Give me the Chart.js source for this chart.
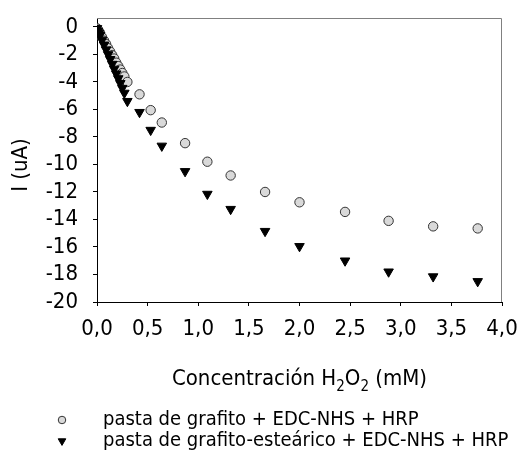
<!DOCTYPE html>
<html>
<head>
<meta charset="utf-8">
<script src="https://cdn.jsdelivr.net/npm/chart.js@4"></script>
<style>
  html, body { margin: 0; padding: 0; background: #fff; }
  #wrap { width: 518px; height: 466px; }
</style>
</head>
<body>
<div id="wrap"><canvas id="chart" width="518" height="466"></canvas></div>
<script>
// concentración H2O2 (mM)
var conc = [0, 0.01, 0.02, 0.03, 0.05, 0.07, 0.09, 0.11, 0.13, 0.15, 0.17, 0.19, 0.21, 0.23, 0.25, 0.27, 0.30,
            0.42, 0.53, 0.64, 0.87, 1.09, 1.32, 1.66, 2.00, 2.45, 2.88, 3.32, 3.76];
// pasta de grafito + EDC-NHS + HRP
var grafito = [-0.1, -0.2, -0.35, -0.45, -0.75, -1.0, -1.25, -1.55, -1.8, -2.05, -2.3, -2.6, -2.85, -3.1, -3.35, -3.6, -4.0,
               -4.9, -6.05, -6.95, -8.45, -9.8, -10.8, -12.0, -12.75, -13.45, -14.1, -14.5, -14.65];
// pasta de grafito-esteárico + EDC-NHS + HRP
var estearico = [-0.1, -0.3, -0.45, -0.6, -0.95, -1.3, -1.65, -2.0, -2.35, -2.7, -3.05, -3.4, -3.75, -4.1, -4.45, -4.8, -5.4,
                 -6.2, -7.5, -8.65, -10.5, -12.15, -13.25, -14.85, -15.95, -17.0, -17.8, -18.15, -18.5];

var yTicks = [0, -2, -4, -6, -8, -10, -12, -14, -16, -18, -20];
var xTicks = [0, 0.5, 1.0, 1.5, 2.0, 2.5, 3.0, 3.5, 4.0];
var legendLabels = ["pasta de grafito + EDC-NHS + HRP", "pasta de grafito-esteárico + EDC-NHS + HRP"];

var FONT = "'Liberation Sans Narrow', 'DejaVu Sans Condensed', 'Liberation Sans', sans-serif";

function pts(ys) {
  return conc.map(function (x, i) { return { x: x, y: ys[i] }; });
}

// marco, títulos y leyenda dibujados a mano
var extras = {
  id: "extras",
  afterDraw: function (chart) {
    var ctx = chart.ctx;
    var a = chart.chartArea;
    ctx.save();
    // marco gris arriba y derecha
    ctx.strokeStyle = "#808080";
    ctx.lineWidth = 1;
    ctx.beginPath();
    ctx.moveTo(a.left, a.top + 0.5);
    ctx.lineTo(a.right - 0.5, a.top + 0.5);
    ctx.lineTo(a.right - 0.5, a.bottom);
    ctx.stroke();

    ctx.fillStyle = "#000";
    // titulo eje y
    ctx.save();
    ctx.translate(21, (a.top + a.bottom) / 2 + 5);
    ctx.rotate(-Math.PI / 2);
    ctx.font = "22px " + FONT;
    ctx.textAlign = "center";
    ctx.textBaseline = "middle";
    ctx.fillText("I (uA)", 0, 0);
    ctx.restore();

    // titulo eje x con subindices
    var parts = [["Concentración H", 0], ["2", 1], ["O", 0], ["2", 1], [" (mM)", 0]];
    var big = "22px " + FONT, small = "15px " + FONT;
    var total = 0;
    parts.forEach(function (p) {
      ctx.font = p[1] ? small : big;
      total += ctx.measureText(p[0]).width;
    });
    var x = (a.left + a.right) / 2 - total / 2;
    var base = 385;
    ctx.textAlign = "left";
    ctx.textBaseline = "alphabetic";
    parts.forEach(function (p) {
      ctx.font = p[1] ? small : big;
      ctx.fillText(p[0], x, p[1] ? base + 6 : base);
      x += ctx.measureText(p[0]).width;
    });

    // leyenda
    ctx.font = "20px " + FONT;
    ctx.textBaseline = "middle";
    var rows = [420, 441];
    chart.data.datasets.forEach(function (ds, i) {
      ctx.fillStyle = ds.backgroundColor;
      ctx.strokeStyle = ds.borderColor;
      ctx.lineWidth = ds.borderWidth;
      Chart.helpers.drawPoint(ctx, {
        pointStyle: ds.pointStyle,
        rotation: ds.rotation || 0,
        radius: ds.pointRadius * 0.8,
        borderWidth: ds.borderWidth
      }, 62, rows[i]);
      ctx.fillStyle = "#000";
      ctx.fillText(legendLabels[i], 103, rows[i]);
    });
    ctx.restore();
  }
};

new Chart(document.getElementById("chart"), {
  type: "scatter",
  data: {
    datasets: [
      {
        label: legendLabels[0],
        data: pts(grafito),
        pointStyle: "circle",
        pointRadius: 4.7,
        backgroundColor: "#d9d9d9",
        borderColor: "#333333",
        borderWidth: 1,
        order: 1
      },
      {
        label: legendLabels[1],
        data: pts(estearico),
        pointStyle: "triangle",
        rotation: 180,
        pointRadius: 5.5,
        backgroundColor: "#000000",
        borderColor: "#000000",
        borderWidth: 1,
        order: 0
      }
    ]
  },
  options: {
    responsive: false,
    animation: false,
    events: [],
    layout: { padding: { top: 18, right: 16, left: 0, bottom: 0 } },
    plugins: { legend: { display: false }, tooltip: { enabled: false } },
    scales: {
      x: {
        type: "linear",
        min: 0,
        max: 4,
        afterBuildTicks: function (s) { s.ticks = xTicks.map(function (v) { return { value: v }; }); },
        afterFit: function (s) { s.height = 164; s.paddingLeft = 0; s.paddingRight = 0; },
        grid: { drawOnChartArea: false, tickLength: 4, color: "#000" },
        border: { color: "#000", width: 1 },
        ticks: {
          color: "#000",
          font: { family: FONT, size: 22 },
          padding: 10,
          maxRotation: 0,
          autoSkip: false,
          callback: function (v) { return v.toFixed(1).replace(".", ","); }
        }
      },
      y: {
        type: "linear",
        min: -20,
        max: 0.65,
        afterBuildTicks: function (s) { s.ticks = yTicks.map(function (v) { return { value: v }; }); },
        afterFit: function (s) { s.width = 97; s.paddingTop = 0; s.paddingBottom = 0; },
        grid: { drawOnChartArea: false, tickLength: 4, color: "#000" },
        border: { color: "#000", width: 1 },
        ticks: {
          color: "#000",
          font: { family: FONT, size: 22 },
          padding: 15,
          autoSkip: false,
          callback: function (v) { return String(v); }
        }
      }
    }
  },
  plugins: [extras]
});
</script>
</body>
</html>
